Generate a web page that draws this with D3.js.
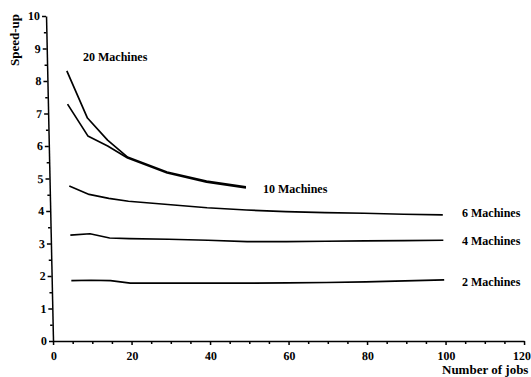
<!DOCTYPE html>
<html>
<head>
<meta charset="utf-8">
<script src="https://cdn.jsdelivr.net/npm/d3@7"></script>
<style>
  body { margin: 0; background: #fff; }
  text { font-family: "Liberation Serif", "Times New Roman", serif; fill: #000; font-weight: bold; }
  .axis path, .axis line { stroke: #000; stroke-width: 1.5; }
  .axis text { font-size: 12px; }
</style>
</head>
<body>
<div id="chart"></div>
<script>
// Data________________________________________________________________
const jobs = [5, 10, 15, 20, 30, 40, 50, 60, 70, 80, 90, 100];
const jobsShort = [5, 10, 15, 20, 30, 40, 50];
const speedup20 = [8.31, 6.86, 6.18, 5.66, 5.2, 4.92, 4.74];
const speedup10 = [7.29, 6.31, 6.0, 5.63, 5.17, 4.89, 4.71];
const speedup6 = [4.77, 4.51, 4.39, 4.3, 4.2, 4.1, 4.03, 3.98, 3.95, 3.93, 3.9, 3.88];
const speedup4 = [3.26, 3.3, 3.17, 3.15, 3.13, 3.1, 3.06, 3.06, 3.07, 3.08, 3.09, 3.1];
const speedup2 = [1.86, 1.87, 1.86, 1.78, 1.78, 1.78, 1.78, 1.79, 1.8, 1.82, 1.85, 1.88];
const seriesNames = ['20 Machines', '10 Machines', '6 Machines', '4 Machines', '2 Machines'];
const xTicks = [0, 20, 40, 60, 80, 100, 120];
const yTicks = [0, 1, 2, 3, 4, 5, 6, 7, 8, 9, 10];

// Variables___________________________________________________________
const width = 531;
const height = 377;
const x0 = 53, x1 = 524, yBottom = 341, yTop = 16;

const xScale = d3.scaleLinear().domain([0, 120]).range([x0, x1]);
const yScale = d3.scaleLinear().domain([0, 10]).range([yBottom, yTop]);

const series = [
    { name: seriesNames[0], x: jobsShort, y: speedup20 },
    { name: seriesNames[1], x: jobsShort, y: speedup10 },
    { name: seriesNames[2], x: jobs, y: speedup6 },
    { name: seriesNames[3], x: jobs, y: speedup4 },
    { name: seriesNames[4], x: jobs, y: speedup2 },
];
// label placement (left x, baseline y)
const labelPos = [[83, 61], [263, 193], [462, 217], [462, 245], [462, 286]];

const svg = d3.select('#chart')
    .append('svg')
    .attr('width', width)
    .attr('height', height);

// the scanned figure leans slightly: shear the plot about the x axis
const plot = svg.append('g')
    .attr('transform', `translate(0,${yBottom}) skewX(1.23) translate(0,${-yBottom})`);

// Axes________________________________________________________________
const xAxis = d3.axisBottom(xScale)
    .tickValues(xTicks)
    .tickSize(4)
    .tickSizeOuter(0)
    .tickPadding(6);
const gx = plot.append('g')
    .attr('class', 'axis')
    .attr('transform', `translate(0,${yBottom})`)
    .call(xAxis);
// keep the last label inside the page
gx.selectAll('.tick text')
    .filter(d => d === 120)
    .attr('text-anchor', 'end')
    .attr('dx', '6');

plot.append('g')
    .attr('class', 'axis minor')
    .attr('transform', `translate(0,${yBottom})`)
    .call(d3.axisBottom(xScale)
        .tickValues(d3.range(5, 120, 5).filter(d => d % 20 !== 0))
        .tickSize(3)
        .tickSizeOuter(0)
        .tickFormat(''))
    .select('.domain').remove();

const yAxis = d3.axisLeft(yScale)
    .tickValues(yTicks)
    .tickSize(4)
    .tickSizeOuter(0)
    .tickPadding(2);
plot.append('g')
    .attr('class', 'axis')
    .attr('transform', `translate(${x0},0)`)
    .call(yAxis);

plot.append('g')
    .attr('class', 'axis minor')
    .attr('transform', `translate(${x0},0)`)
    .call(d3.axisLeft(yScale)
        .tickValues(d3.range(0.5, 10, 1))
        .tickSize(2.5)
        .tickSizeOuter(0)
        .tickFormat(''))
    .select('.domain').remove();

// Lines_______________________________________________________________
const line = d3.line()
    .x(d => xScale(d[0]))
    .y(d => yScale(d[1]));

plot.append('g')
    .selectAll('path')
    .data(series)
    .enter()
    .append('path')
    .attr('d', s => line(s.x.map((v, i) => [v, s.y[i]])))
    .attr('fill', 'none')
    .attr('stroke', '#000')
    .attr('stroke-width', 1.7)
    .attr('stroke-linejoin', 'round');

// Labels______________________________________________________________
svg.append('g')
    .selectAll('text')
    .data(series)
    .enter()
    .append('text')
    .attr('x', (d, i) => labelPos[i][0])
    .attr('y', (d, i) => labelPos[i][1])
    .style('font-size', '12px')
    .text(d => d.name);

svg.append('text')
    .attr('x', 442)
    .attr('y', 374)
    .style('font-size', '13px')
    .text('Number of jobs');

svg.append('text')
    .attr('transform', 'translate(19,40) rotate(-90)')
    .attr('text-anchor', 'middle')
    .style('font-size', '13px')
    .text('Speed-up');
</script>
</body>
</html>
